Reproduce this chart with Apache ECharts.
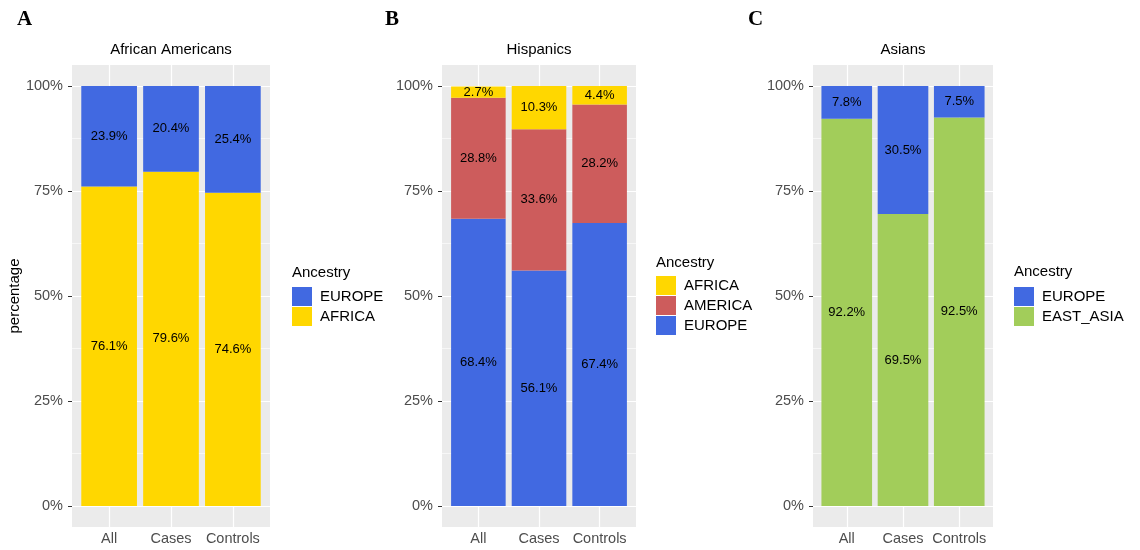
<!DOCTYPE html>
<html><head><meta charset="utf-8">
<script src="https://cdn.jsdelivr.net/npm/echarts@6/dist/echarts.min.js"></script>
<style>html,body{margin:0;padding:0;background:#fff}#c{width:1140px;height:550px}</style>
</head><body><div id="c"></div>
<script>
// ---- data ----
const groups = ['All', 'Cases', 'Controls'];
const yTicks = [0, 25, 50, 75, 100];
const yMinor = [12.5, 37.5, 62.5, 87.5];
// Panel A: African Americans
const aaAfrica = [76.1, 79.6, 74.6];
const aaEurope = [23.9, 20.4, 25.4];
// Panel B: Hispanics
const hiEurope = [68.4, 56.1, 67.4];
const hiAmerica = [28.8, 33.6, 28.2];
const hiAfrica = [2.7, 10.3, 4.4];
// Panel C: Asians
const asEastAsia = [92.2, 69.5, 92.5];
const asEurope = [7.8, 30.5, 7.5];

const panelTitles = ['African Americans', 'Hispanics', 'Asians'];
const panelLetters = ['A', 'B', 'C'];
const panelStacks = [
  [['AFRICA', aaAfrica], ['EUROPE', aaEurope]],
  [['EUROPE', hiEurope], ['AMERICA', hiAmerica], ['AFRICA', hiAfrica]],
  [['EAST_ASIA', asEastAsia], ['EUROPE', asEurope]]
];
const panelLegends = [['EUROPE', 'AFRICA'], ['AFRICA', 'AMERICA', 'EUROPE'], ['EUROPE', 'EAST_ASIA']];

// ---- styles / layout ----
const FONT = '"Liberation Sans", Arial, Helvetica, sans-serif';
const COLORS = { EUROPE: '#4169E1', AFRICA: '#FFD700', AMERICA: '#CD5C5C', EAST_ASIA: '#A2CD5A' };
const layout = [
  { grid: { left: 72, top: 65, width: 198, height: 462 }, letterX: 17, legendX: 292, legendTop: 287, ancTop: 265 },
  { grid: { left: 442, top: 65, width: 194, height: 462 }, letterX: 385, legendX: 656, legendTop: 276, ancTop: 255 },
  { grid: { left: 813, top: 65, width: 180, height: 462 }, letterX: 748, legendX: 1014, legendTop: 287, ancTop: 264 }
];

const grid = [], xAxis = [], yAxis = [], series = [], legend = [], title = [];
layout.forEach((L, i) => {
  grid.push(Object.assign({ show: true, backgroundColor: '#EBEBEB', borderWidth: 0 }, L.grid));
  xAxis.push({
    gridIndex: i, type: 'value', min: 0.4, max: 3.6,
    axisLine: { show: false }, splitLine: { show: false },
    axisTick: { show: true, customValues: [1, 2, 3], length: 4, lineStyle: { color: '#333', width: 1 } },
    axisLabel: { customValues: [1, 2, 3], formatter: v => groups[Math.round(v) - 1], margin: 4, fontSize: 14.5, color: '#4D4D4D', fontFamily: FONT }
  });
  yAxis.push({
    gridIndex: i, type: 'value', min: -5, max: 105,
    name: i === 0 ? 'percentage' : '', nameLocation: 'middle', nameGap: 48, nameRotate: 90,
    nameTextStyle: { fontSize: 15, color: '#000', fontFamily: FONT },
    axisLine: { show: false }, splitLine: { show: false },
    axisTick: { show: true, customValues: yTicks, length: 4, lineStyle: { color: '#333', width: 1 } },
    axisLabel: { customValues: yTicks, formatter: v => v + '%', margin: 9, fontSize: 14.5, color: '#4D4D4D', fontFamily: FONT }
  });
  const gridLines = [];
  yTicks.forEach(v => gridLines.push({ yAxis: v, lineStyle: { color: '#fff', width: 1.2, type: 'solid' } }));
  yMinor.forEach(v => gridLines.push({ yAxis: v, lineStyle: { color: '#fff', width: 0.6, type: 'solid' } }));
  groups.forEach((g, k) => gridLines.push({ xAxis: k + 1, lineStyle: { color: '#fff', width: 1.2, type: 'solid' } }));
  panelStacks[i].forEach(([name, vals], j) => {
    const s = {
      type: 'bar', name, xAxisIndex: i, yAxisIndex: i, stack: 'p' + i,
      // value first so it is the stacked dimension; group position second
      data: vals.map((v, k) => [v, k + 1]),
      encode: { x: 1, y: 0 },
      barWidth: '90%', itemStyle: { color: COLORS[name] }, z: 2,
      label: { show: true, position: 'inside', formatter: p => p.value[0].toFixed(1) + '%', color: '#000', fontSize: 13, fontFamily: FONT, textBorderWidth: 0 }
    };
    if (j === 0) {
      s.markLine = { silent: true, symbol: 'none', z: 1, animation: false, label: { show: false }, data: gridLines };
    }
    series.push(s);
  });
  legend.push({
    data: panelLegends[i], orient: 'vertical', left: L.legendX, top: L.legendTop, padding: 0,
    itemWidth: 20, itemHeight: 19, itemGap: 1, icon: 'rect', selectedMode: false,
    textStyle: { fontSize: 15, color: '#000', fontFamily: FONT, padding: [0, 0, 0, 3] }
  });
  title.push({ text: panelLetters[i], left: L.letterX, top: 9, padding: 0,
    textStyle: { fontFamily: '"Liberation Serif", "Times New Roman", serif', fontWeight: 'bold', fontSize: 21, color: '#000' } });
  title.push({ text: panelTitles[i], left: L.grid.left + L.grid.width / 2, textAlign: 'center', top: 42, padding: 0,
    textStyle: { fontFamily: FONT, fontWeight: 'normal', fontSize: 15, color: '#000' } });
  title.push({ text: 'Ancestry', left: L.legendX, top: L.ancTop, padding: 0,
    textStyle: { fontFamily: FONT, fontWeight: 'normal', fontSize: 15, color: '#000' } });
});

const chart = echarts.init(document.getElementById('c'), null, { renderer: 'canvas' });
chart.setOption({ backgroundColor: '#fff', animation: false, title, grid, xAxis, yAxis, legend, series });
</script>
</body></html>
